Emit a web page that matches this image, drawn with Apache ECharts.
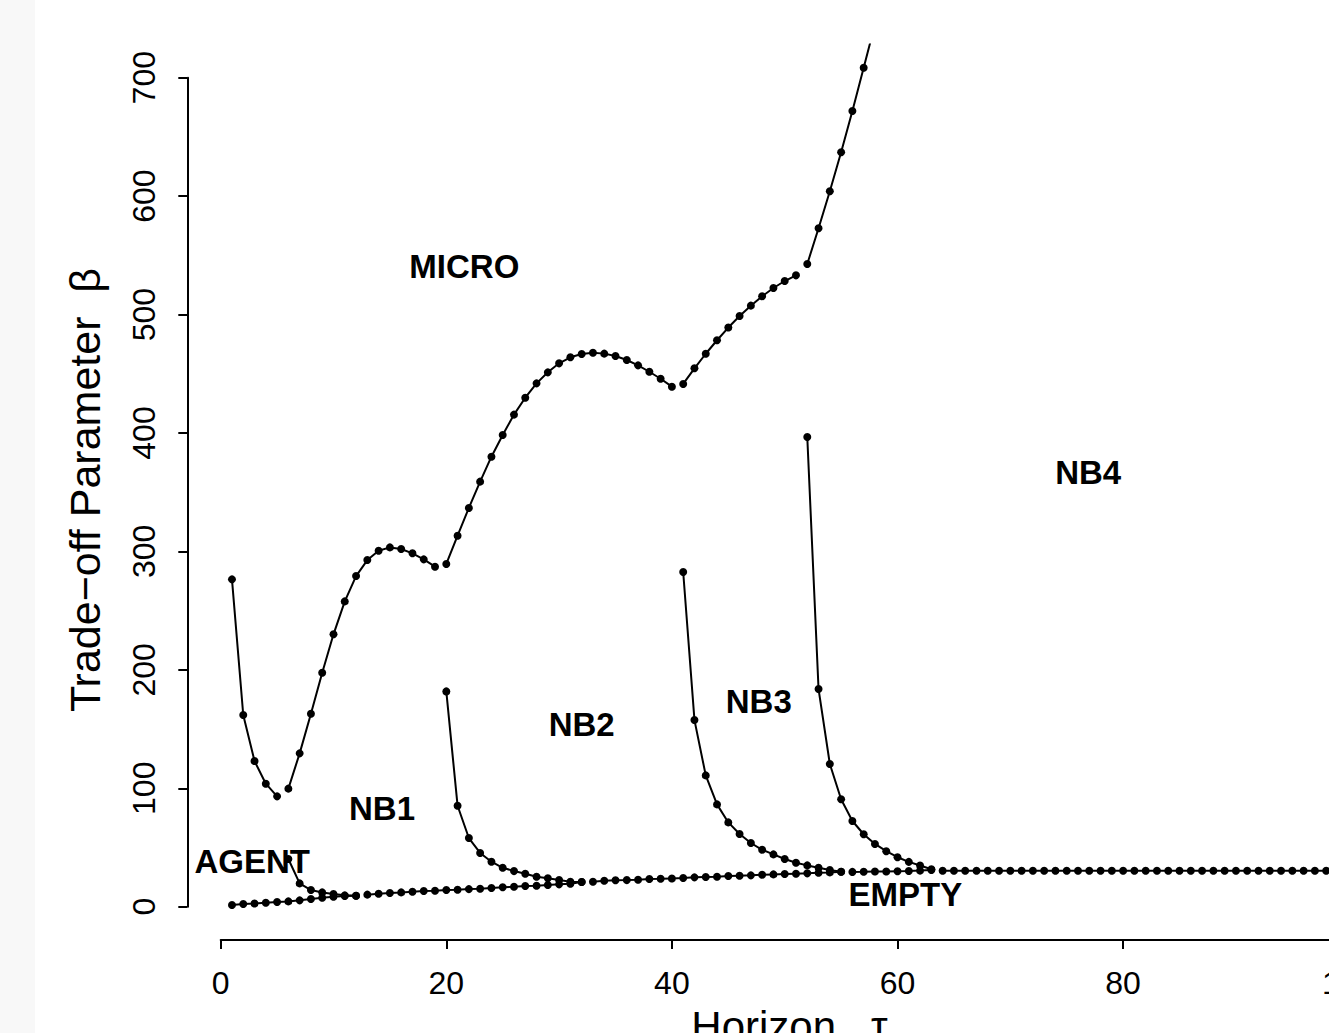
<!DOCTYPE html>
<html><head><meta charset="utf-8">
<script src="https://cdn.jsdelivr.net/npm/echarts@6/dist/echarts.min.js"></script>
<style>html,body{margin:0;padding:0;background:#fff;overflow:hidden}#c{width:1329px;height:1033px}</style>
</head><body><div id="c"></div>
<script>
// ---- tick labels ----
const xTicks = [0, 20, 40, 60, 80, 100];
const yTicks = [0, 100, 200, 300, 400, 500, 600, 700];

// ---- region boundaries (first horizon tau, then beta values for tau, tau+1, ...) ----
const microAgentStart = 1;
const microAgent = [276.4, 161.9, 123.0, 103.9, 93.2];

const microNb1Start = 6;
const microNb1 = [99.7, 129.5, 163.0, 197.6, 230.0, 257.8, 279.2, 292.7, 300.6, 303.4, 302.0, 298.4, 293.3, 287.1];

const microNb2Start = 20;
const microNb2 = [289.4, 313.3, 336.7, 358.9, 380.0, 398.3, 415.5, 429.8, 441.9, 451.2, 458.8, 463.9, 466.7, 467.8, 467.0, 465.0, 461.6, 457.1, 451.7, 445.8, 439.1];

const microNb3Start = 41;
const microNb3 = [441.4, 454.6, 466.9, 478.3, 489.0, 498.8, 507.5, 515.4, 522.4, 528.3, 533.1];

const microNb4Start = 52;
const microNb4 = [542.7, 572.8, 604.1, 637.0, 671.9, 708.4, 745.0];

const agentNb1Start = 6;
const agentNb1 = [40.3, 19.7, 14.1, 12.1, 10.7, 9.6, 9.3];

const nb1Nb2Start = 20;
const nb1Nb2 = [181.8, 85.3, 58.0, 45.4, 38.0, 32.9, 30.1, 27.9, 25.3, 24.0, 22.5, 21.1, 20.9];

const nb2Nb3Start = 41;
const nb2Nb3 = [282.6, 157.6, 110.9, 86.4, 71.2, 61.4, 53.8, 48.1, 44.2, 40.3, 37.2, 34.9, 32.9, 31.0, 29.6];

const nb3Nb4Start = 52;
const nb3Nb4 = [396.6, 183.8, 120.5, 90.7, 72.4, 61.2, 53.0, 46.9, 41.8, 37.9, 34.8, 31.6];

const agentEmptyStart = 1;
const agentEmpty = [1.4, 2.3, 2.8, 3.4, 4.0, 4.5, 5.4, 6.5, 7.6, 8.4, 9.0, 9.3];

const nb1EmptyStart = 13;
const nb1Empty = [10.2, 11.0, 11.6, 12.1, 12.7, 13.3, 13.5, 14.1, 14.4, 14.9, 15.2, 15.8, 16.4, 16.9, 17.5, 17.7, 18.3, 18.9, 19.4, 20.9];

const nb2EmptyStart = 33;
const nb2Empty = [21.1, 22.0, 22.3, 22.5, 22.8, 23.4, 23.6, 23.9, 24.2, 24.8, 25.1, 25.3, 25.9, 26.2, 26.5, 27.0, 27.3, 27.6, 27.9, 28.2, 28.7, 29.0, 29.6];

const nb3EmptyStart = 56;
const nb3Empty = [29.4, 29.5, 29.7, 29.8, 30.0, 30.2, 30.5, 31.0];

const nb4EmptyStart = 64;
const nb4Empty = [30.4, 30.4, 30.4, 30.4, 30.4, 30.4, 30.4, 30.4, 30.4, 30.4,
                  30.4, 30.4, 30.4, 30.4, 30.4, 30.4, 30.4, 30.4, 30.4, 30.4,
                  30.4, 30.4, 30.4, 30.4, 30.4, 30.4, 30.4, 30.4, 30.4, 30.4,
                  30.4, 30.4, 30.4, 30.4, 30.4, 30.4, 30.4];

// ---- region labels (in data coordinates) ----
const regionNames = ['MICRO', 'NB4', 'NB3', 'NB2', 'NB1', 'AGENT', 'EMPTY'];
const regionTau   = [21.6, 76.9, 47.7, 32.0, 14.3, 2.8, 60.7];
const regionBeta  = [540.9, 367.0, 173.7, 154.2, 82.7, 38.5, 10.7];

const xTitle = 'Horizon   \u03C4';
const yTitle = 'Trade\u2212off Parameter  \u03B2';

// ---- build ----
const FONT = "'Liberation Sans', Arial, Helvetica, sans-serif";
const boundaries = [
  [microAgentStart, microAgent], [microNb1Start, microNb1], [microNb2Start, microNb2],
  [microNb3Start, microNb3], [microNb4Start, microNb4], [agentNb1Start, agentNb1],
  [nb1Nb2Start, nb1Nb2], [nb2Nb3Start, nb2Nb3], [nb3Nb4Start, nb3Nb4],
  [agentEmptyStart, agentEmpty], [nb1EmptyStart, nb1Empty], [nb2EmptyStart, nb2Empty],
  [nb3EmptyStart, nb3Empty], [nb4EmptyStart, nb4Empty]
];
const lineSeries = boundaries.map(([s, vals]) => ({
  type: 'line', xAxisIndex: 0, yAxisIndex: 0,
  data: vals.map((v, i) => [s + i, v]),
  symbol: 'circle', symbolSize: 8, showAllSymbol: true,
  lineStyle: { color: '#000', width: 2 },
  itemStyle: { color: '#000', borderWidth: 0, opacity: 1 },
  clip: true, z: 3, silent: true
}));
const labelSeries = {
  type: 'scatter', xAxisIndex: 0, yAxisIndex: 0, z: 2, silent: true,
  symbolSize: 0, itemStyle: { color: '#000', opacity: 1 },
  data: regionNames.map((n, i) => ({ name: n, value: [regionTau[i], regionBeta[i]] })),
  label: { show: true, position: 'inside', formatter: '{b}', color: '#000', opacity: 1,
           textBorderWidth: 0, textBorderColor: 'transparent',
           fontFamily: FONT, fontWeight: 'bold', fontSize: 33, align: 'center', verticalAlign: 'middle' }
};

// data grid = R plot region (usr: x -2.96..103.96, y -28..728)
const gA = { left: 187.3, top: 44.5, width: 1206.1, height: 895.4 };
// axes grid = tick range 0..100 x 0..700
const gB = { left: 220.7, top: 77.7, width: 1128, height: 829 };

const chart = echarts.init(document.getElementById('c'), null, { renderer: 'svg' });
chart.setOption({
  animation: false,
  backgroundColor: '#ffffff',
  grid: [
    Object.assign({ show: false, containLabel: false, outerBoundsMode: 'none' }, gA),
    Object.assign({ show: false, containLabel: false, outerBoundsMode: 'none' }, gB)
  ],
  xAxis: [
    { type: 'value', gridIndex: 0, min: -2.96, max: 103.96, show: false },
    { type: 'value', gridIndex: 1, min: xTicks[0], max: xTicks[xTicks.length - 1],
      interval: xTicks[1] - xTicks[0], offset: 33.2,
      axisLine: { show: true, onZero: false, lineStyle: { color: '#000', width: 2 } },
      axisTick: { show: true, length: 9, inside: false, lineStyle: { color: '#000', width: 2 } },
      axisLabel: { show: true, margin: 27, color: '#000', fontSize: 32, fontFamily: FONT,
                   showMinLabel: true, showMaxLabel: true },
      splitLine: { show: false } }
  ],
  yAxis: [
    { type: 'value', gridIndex: 0, min: -28, max: 728, show: false },
    { type: 'value', gridIndex: 1, min: yTicks[0], max: yTicks[yTicks.length - 1],
      interval: yTicks[1] - yTicks[0], offset: 33.4,
      axisLine: { show: true, onZero: false, lineStyle: { color: '#000', width: 2 } },
      axisTick: { show: true, length: 9, inside: false, lineStyle: { color: '#000', width: 2 } },
      axisLabel: { show: true, rotate: 90, margin: 27, color: '#000', fontSize: 32, fontFamily: FONT,
                   showMinLabel: true, showMaxLabel: true },
      splitLine: { show: false } }
  ],
  graphic: [
    { type: 'rect', left: 0, top: 0, z: -10, shape: { x: 0, y: 0, width: 35, height: 1033 },
      style: { fill: '#f8f8f8' }, silent: true },
    { type: 'text', x: 789.5, y: 1026, z: 10, silent: true,
      style: { text: xTitle, fill: '#000', font: '42px ' + FONT, textAlign: 'center', textVerticalAlign: 'middle' } },
    { type: 'text', x: 85, y: 490, rotation: Math.PI / 2, z: 10, silent: true,
      style: { text: yTitle, fill: '#000', font: '43px ' + FONT, textAlign: 'center', textVerticalAlign: 'middle' } }
  ],
  series: lineSeries.concat([labelSeries])
});
</script>
</body></html>
